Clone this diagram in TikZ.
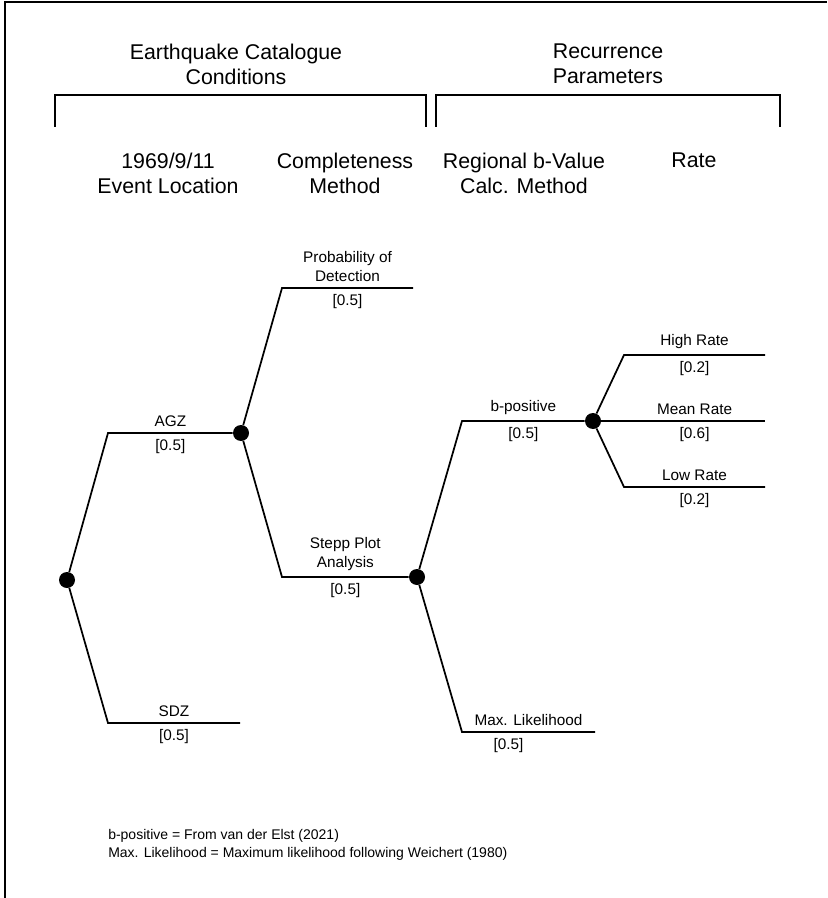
\documentclass[tikz,border=0pt]{standalone}
\usepackage{fontspec}
\setmainfont{Liberation Sans}
\begin{document}
\begin{tikzpicture}[x=0.75pt, y=-0.75pt,
    branch/.style={line width=1.3pt},
    dot/.style={circle, fill=black, inner sep=0pt, minimum size=12pt},
    lbl/.style={font=\fontsize{11.5}{14.5}\selectfont, align=center, inner sep=4pt},
    hdr/.style={font=\fontsize{16}{18.75}\selectfont, align=center, anchor=north, inner sep=0pt}]
    \useasboundingbox (0,0) rectangle (827,898);

    % frame
    \draw[line width=1.5pt] (5,898) -- (5,2) -- (827,2);

    % group headings and brackets
    \node[hdr] (catalogue) at (236,44) {Earthquake Catalogue\\Conditions};
    \node[hdr] (recurrence) at (608,44) {Recurrence\\Parameters};
    \draw[branch] (55,127) -- (55,95) -- (426,95) -- (426,127);
    \draw[branch] (436,127) -- (436,95) -- (780,95) -- (780,127);

    % column headings
    \node[hdr] (colloc) at (168,153) {1969/9/11\\Event Location};
    \node[hdr] (colcomp) at (345,153) {Completeness\\Method};
    \node[hdr] (colbval) at (524,153) {Regional b-Value\\Calc. Method};
    \node[hdr] (colrate) at (694,153) {Rate};

    % chance nodes
    \node[dot] (root) at (67,580) {};
    \node[dot] (agz) at (241,433) {};
    \node[dot] (stepp) at (417,577) {};
    \node[dot] (bpos) at (593,421) {};

    % branch corners and free ends
    \coordinate (agzA) at (108,433);
    \coordinate (sdzA) at (108,723);
    \coordinate (sdzB) at (240,723);
    \coordinate (probA) at (282,288);
    \coordinate (probB) at (413,288);
    \coordinate (steppA) at (282,577);
    \coordinate (bposA) at (462,421);
    \coordinate (mlA) at (462,732);
    \coordinate (mlB) at (595,732);
    \coordinate (highA) at (624,355);
    \coordinate (highB) at (765,355);
    \coordinate (meanB) at (765,421);
    \coordinate (lowA) at (624,487);
    \coordinate (lowB) at (765,487);

    % event location
    \draw[branch] (root) -- (agzA) -- node[lbl, above]{AGZ} node[lbl, below]{[0.5]} (agz);
    \draw[branch] (root) -- (sdzA) -- node[lbl, above]{SDZ} node[lbl, below]{[0.5]} (sdzB);

    % completeness method
    \draw[branch] (agz) -- (probA) -- node[lbl, above]{Probability of\\Detection} node[lbl, below]{[0.5]} (probB);
    \draw[branch] (agz) -- (steppA) -- node[lbl, above]{Stepp Plot\\Analysis} node[lbl, below]{[0.5]} (stepp);

    % b-value method
    \draw[branch] (stepp) -- (bposA) -- node[lbl, above]{b-positive} node[lbl, below]{[0.5]} (bpos);
    \draw[branch] (stepp) -- (mlA) -- node[lbl, above]{Max. Likelihood} node[lbl, below, xshift=-15]{[0.5]} (mlB);

    % rate
    \draw[branch] (bpos) -- (highA) -- node[lbl, above]{High Rate} node[lbl, below]{[0.2]} (highB);
    \draw[branch] (bpos) -- node[lbl, above, pos=0.57]{Mean Rate} node[lbl, below, pos=0.57]{[0.6]} (meanB);
    \draw[branch] (bpos) -- (lowA) -- node[lbl, above]{Low Rate} node[lbl, below]{[0.2]} (lowB);

    % notes
    \node[lbl, font=\fontsize{10.5}{13.5}\selectfont, align=left, anchor=north west, inner sep=0pt] (notes) at (108,829)
        {b-positive = From van der Elst (2021)\\Max. Likelihood = Maximum likelihood following Weichert (1980)};
\end{tikzpicture}
\end{document}
